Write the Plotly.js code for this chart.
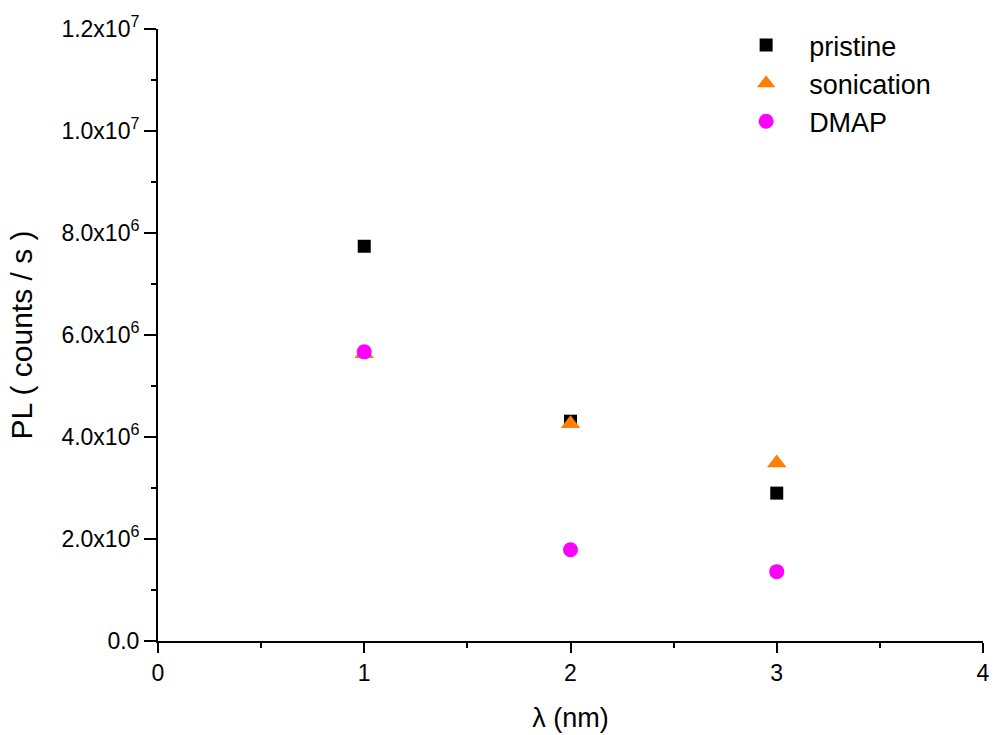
<!DOCTYPE html>
<html>
<head>
<meta charset="utf-8">
<script src="https://cdn.plot.ly/plotly-3.0.1.min.js"></script>
<style>html,body{margin:0;padding:0;background:#fff;}#chart{width:993px;height:735px;}</style>
</head>
<body>
<div id="chart"></div>
<script>
const xValues = [1, 2, 3];
const pristine = [7.74e6, 4.31e6, 2.90e6];
const sonication = [5.63e6, 4.26e6, 3.49e6];
const dmap = [5.67e6, 1.79e6, 1.36e6];
const seriesNames = ['pristine', 'sonication', 'DMAP'];
const yTickVals = [0, 2e6, 4e6, 6e6, 8e6, 1e7, 1.2e7];
const yTickText = ['0.0', '2.0x10<sup>6</sup>', '4.0x10<sup>6</sup>', '6.0x10<sup>6</sup>', '8.0x10<sup>6</sup>', '1.0x10<sup>7</sup>', '1.2x10<sup>7</sup>'];
const xTickVals = [0, 1, 2, 3, 4];
const xTickText = ['0', '1', '2', '3', '4'];

const font = 'Liberation Sans, Arial, sans-serif';

const traces = [
  {x: xValues, y: pristine, name: seriesNames[0], type: 'scatter', mode: 'markers',
   marker: {symbol: 'square', size: 13, color: '#000000'}},
  {x: xValues, y: sonication, name: seriesNames[1], type: 'scatter', mode: 'markers',
   marker: {symbol: 'triangle-up', size: 17, color: '#FF8000'}},
  {x: xValues, y: dmap, name: seriesNames[2], type: 'scatter', mode: 'markers',
   marker: {symbol: 'circle', size: 15, color: '#FF00FF'}}
];

const layout = {
  width: 993, height: 735,
  margin: {l: 158, r: 10, t: 29, b: 94},
  paper_bgcolor: '#ffffff', plot_bgcolor: '#ffffff',
  font: {family: font, color: '#000', size: 22},
  showlegend: true,
  legend: {x: 0.685, y: 1.013, xanchor: 'left', yanchor: 'top', font: {family: font, size: 27, color: '#000'},
    bgcolor: 'rgba(0,0,0,0)', itemwidth: 76, tracegroupgap: 0},
  xaxis: {
    range: [0, 4], showline: true, linecolor: '#000', linewidth: 2, showgrid: false, zeroline: false,
    ticks: 'outside', ticklen: 10, tickwidth: 2, tickcolor: '#000',
    tickvals: xTickVals, ticktext: xTickText, tickfont: {family: font, size: 23},
    minor: {dtick: 0.5, ticks: 'outside', ticklen: 5, tickwidth: 2, tickcolor: '#000', showgrid: false},
    title: {text: 'λ (nm)', font: {family: font, size: 27}, standoff: 24}
  },
  yaxis: {
    range: [0, 1.2e7], showline: true, linecolor: '#000', linewidth: 2, showgrid: false, zeroline: false,
    ticks: 'outside', ticklen: 12, tickwidth: 2, tickcolor: '#000',
    tickvals: yTickVals, ticktext: yTickText, tickfont: {family: font, size: 23},
    minor: {dtick: 1e6, ticks: 'outside', ticklen: 5, tickwidth: 2, tickcolor: '#000', showgrid: false},
    title: {text: 'PL ( counts / s )', font: {family: font, size: 30}, standoff: 20}
  }
};

Plotly.newPlot('chart', traces, layout, {displayModeBar: false, staticPlot: true});
</script>
</body>
</html>
